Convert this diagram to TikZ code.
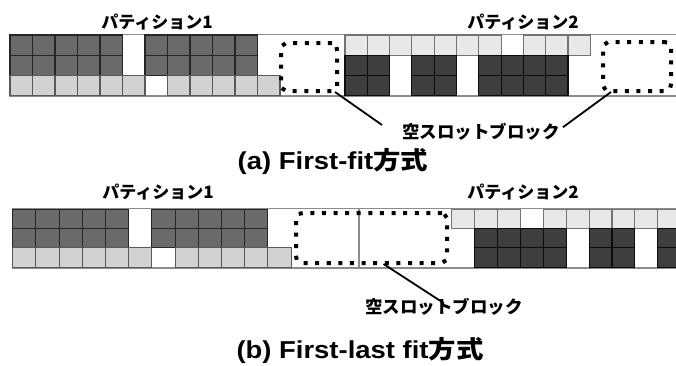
\documentclass[tikz,border=0pt]{standalone}
\usepackage{fontspec}
\usepackage{graphicx}
\setmainfont{Liberation Sans}
\newfontfamily\jp{Noto Sans CJK JP}
\usetikzlibrary{calc}

\definecolor{pOneDark}{HTML}{6A6A6A}
\definecolor{pOneLight}{HTML}{D2D2D2}
\definecolor{pTwoLight}{HTML}{E8E8E8}
\definecolor{pTwoDark}{HTML}{3E3E3E}
\definecolor{frameGray}{HTML}{8C8C8C}

\tikzset{
  frameline/.style={draw=frameGray, line width=1.6pt},
  oneDark/.style={fill=pOneDark, draw=black!85, line width=1.1pt},
  oneLight/.style={fill=pOneLight, draw=black!65, line width=1.1pt},
  twoLight/.style={fill=pTwoLight, draw=black!55, line width=1.1pt},
  twoDark/.style={fill=pTwoDark, draw=black!95, line width=1.1pt},
  dotbox/.style={draw=black, line width=4pt, line cap=rect,
    dash pattern=on 0.01pt off 11.6pt, rounded corners=7pt,
    inner sep=0pt, fill=none},
  partlabel/.style={font=\jp\bfseries\fontsize{17}{17}\selectfont, inner sep=0pt},
  slotlabel/.style={font=\jp\bfseries\fontsize{17.5}{17.5}\selectfont, inner sep=0pt},
  caption/.style={font=\bfseries\fontsize{24.5}{24.5}\selectfont, inner sep=0pt},
  pointer/.style={draw=black, line width=1.8pt}
}

% one row of slots: x0, slot width, top y, slot height, style, slot indices
\newcommand\slotrow[6]{%
  \foreach \c in {#6}{\path[#5] ({#1+\c*#2},#3) rectangle ++(#2,#4);}}
% captions are set slightly wide
\newcommand\widecap[1]{\scalebox{1.12}[1]{#1}}

\begin{document}
\begin{tikzpicture}[x=1pt,y=-1pt]
\useasboundingbox (0,0) rectangle (676,365);
\clip (0,0) rectangle (676,365);

% ---------------- (a) First-fit ----------------
\path[frameline] (10,34.5) rectangle (700,96.2);
% partition 1
\slotrow{10}{22.5}{35}{20.3}{oneDark}{0,1,2,3,4,6,7,8,9,10}
\slotrow{10}{22.5}{55.3}{20.3}{oneDark}{0,1,2,3,4,6,7,8,9,10}
\slotrow{10}{22.5}{75.6}{20.3}{oneLight}{0,1,2,3,4,5,7,8,9,10,11}
% partition 2
\slotrow{345}{22.3}{35}{20.3}{twoLight}{0,1,2,3,4,5,6,8,9,10}
\slotrow{345}{22.3}{55.3}{20.3}{twoDark}{0,1,3,4,6,7,8,9}
\slotrow{345}{22.3}{75.6}{20.3}{twoDark}{0,1,3,4,6,7,8,9}

\node[partlabel] (partA1) at (157,22) {パティション1};
\node[partlabel] (partA2) at (523,22) {パティション2};

\node[dotbox, minimum width=56pt, minimum height=48pt] (boxA1) at (309,67) {};
\node[dotbox, minimum width=68pt, minimum height=49pt] (boxA2) at (637,66.5) {};

\node[slotlabel] (slotA) at (481,132) {空スロットブロック};
\draw[pointer] ($(boxA1.south east)+(-4,-1)$) -- ($(slotA.west)+(-20,-7)$);
\draw[pointer] ($(boxA2.south west)+(10,-1)$) -- ($(slotA.north east)+(3,4)$);

\node[caption] (capA) at (333,161) {\widecap{(a) First-fit{\jp 方式}}};

% ---------------- (b) First-last fit ----------------
\path[frameline] (12.7,208.5) rectangle (700,267.8);
% partition 1
\slotrow{12.7}{23.2}{209.3}{19.3}{oneDark}{0,1,2,3,4,6,7,8,9,10}
\slotrow{12.7}{23.2}{228.6}{19.3}{oneDark}{0,1,2,3,4,6,7,8,9,10}
\slotrow{12.7}{23.2}{247.9}{19.3}{oneLight}{0,1,2,3,4,5,7,8,9,10,11}
% partition boundary
\draw[frameline] (359,208.5) -- (359,267.8);
% partition 2
\slotrow{451.7}{22.9}{209.3}{19.3}{twoLight}{0,1,2,4,5,6,7,8,9}
\slotrow{451.7}{22.9}{228.6}{19.3}{twoDark}{1,2,3,4,6,7,9}
\slotrow{451.7}{22.9}{247.9}{19.3}{twoDark}{1,2,3,4,6,7,9}

\node[partlabel] (partB1) at (158,192) {パティション1};
\node[partlabel] (partB2) at (523,192) {パティション2};

\node[dotbox, minimum width=151pt, minimum height=50pt] (boxB) at (371.5,238) {};

\node[slotlabel] (slotB) at (444,307) {空スロットブロック};
\draw[pointer] ($(boxB.south)+(12,-1)$) -- ($(slotB.north)+(0,5)$);

\node[caption] (capB) at (360,350) {\widecap{(b) First-last fit{\jp 方式}}};
\end{tikzpicture}
\end{document}
